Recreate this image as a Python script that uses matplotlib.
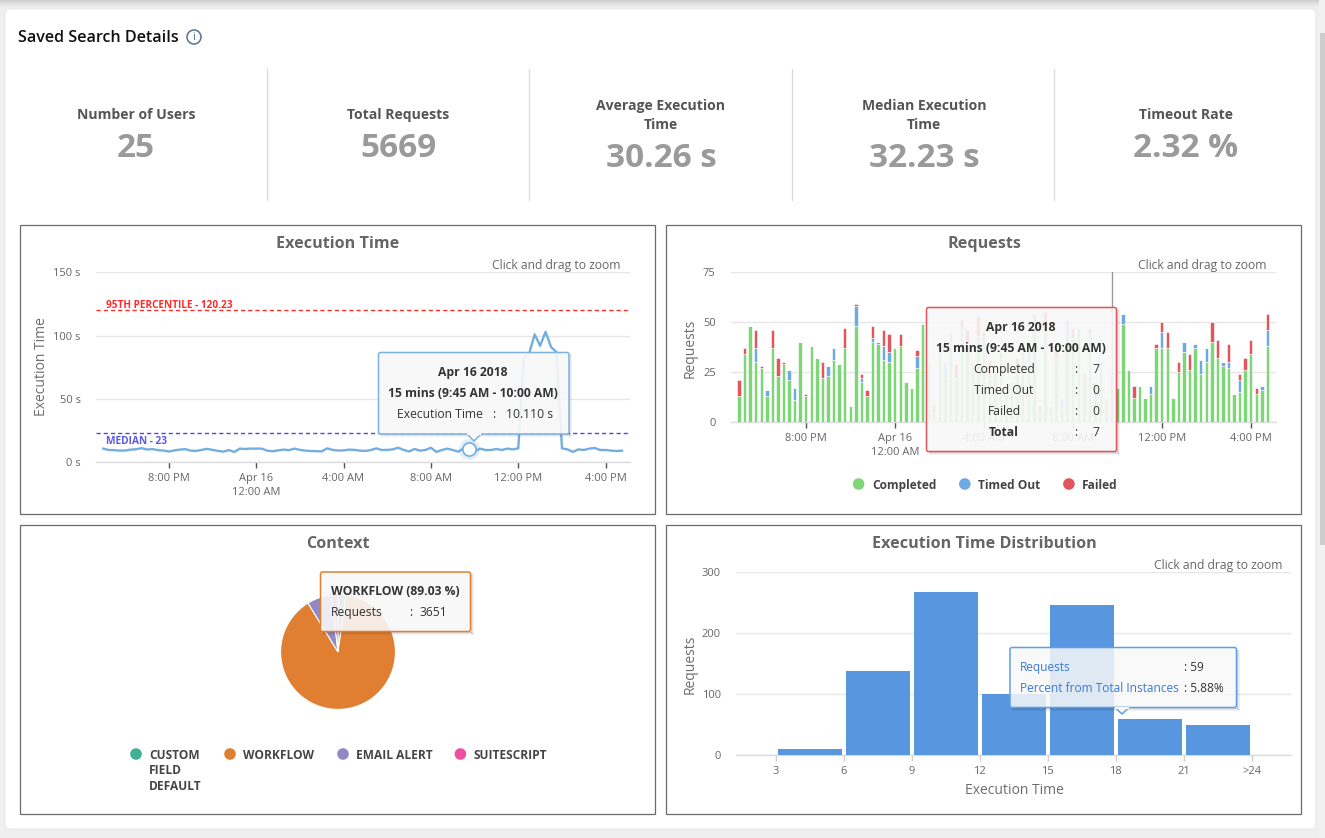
import matplotlib
matplotlib.use("Agg")
import matplotlib.pyplot as plt
from matplotlib.patches import FancyBboxPatch, Circle, Polygon, Rectangle

plt.rcParams['font.family'] = ['Open Sans', 'DejaVu Sans']

W, H = 1325, 838

# ---------- data ----------
kpi_labels = ["Number of Users", "Total Requests", "Average Execution\nTime", "Median Execution\nTime", "Timeout Rate"]
kpi_values = ["25", "5669", "30.26 s", "32.23 s", "2.32 %"]

time_ticks = [12, 28, 44, 60, 76, 92]
time_labels = ["8:00 PM", "Apr 16\n12:00 AM", "4:00 AM", "8:00 AM", "12:00 PM", "4:00 PM"]

exec_time = [10.8, 9.7, 9.6, 9.2, 9.3, 10.0, 10.3, 11.2, 10.1, 10.4, 9.6, 9.3,
             8.5, 9.4, 10.0, 10.4, 9.2, 9.0, 9.8, 10.6, 9.8, 9.0, 8.4, 9.6,
             8.2, 10.8, 10.5, 10.8, 10.8, 10.8, 9.2, 8.7, 9.4, 10.0, 9.6, 10.8,
             9.8, 9.2, 8.9, 8.8, 8.6, 11.0, 9.8, 9.3, 9.4, 10.0, 9.8, 9.2,
             9.0, 9.7, 11.0, 9.7, 9.8, 10.2, 11.5, 9.8, 8.5, 10.5, 9.2, 9.7,
             11.5, 8.2, 9.7, 10.8, 9.7, 8.4, 11.0, 10.11, 8.6, 10.8, 9.7, 9.7,
             10.5, 9.7, 10.8, 10.2, 11.0, 82, 86, 101, 92, 103, 91, 87,
             11.0, 10.2, 8.2, 10.2, 9.7, 10.8, 11.3, 9.7, 9.7, 9.2, 8.9, 9.2]
exec_ticks = [0, 50, 100, 150]
exec_ticklabels = ["0 s", "50 s", "100 s", "150 s"]
percentile_95 = 120.23
median_line = 23
hover_index = 67

completed = [13, 34, 48, 30, 27, 13, 37, 23, 29, 21, 11, 40, 13, 38, 32, 22, 23, 31, 29, 37,
             8, 48, 20, 13, 40, 39, 31, 30, 37, 38, 20, 17, 27, 49,
             30, 5, 40, 22, 38, 22, 40, 39, 30, 43, 36, 22, 26, 35, 15, 20, 27, 40, 30, 50,
             5, 45, 8, 32, 7, 43, 42, 42, 25, 42, 20, 30, 12, 25, 17,
             49, 26, 12, 18, 12, 14, 37, 37, 37, 12, 25, 35, 26, 37, 24, 30, 40, 32, 28, 27,
             14, 15, 26, 34, 14, 16, 38]
timed_out = [0, 0, 0, 7, 0, 3, 0, 0, 0, 5, 6, 0, 0, 0, 0, 0, 5, 6, 0, 0,
             0, 10, 2, 0, 2, 1, 7, 5, 0, 0, 0, 0, 6, 0,
             0, 0, 0, 8, 7, 0, 7, 0, 0, 0, 7, 0, 0, 0, 0, 0, 0, 0, 6, 4,
             0, 0, 0, 0, 5, 8, 0, 5, 0, 5, 0, 0, 0, 0, 0,
             5, 0, 0, 0, 0, 4, 0, 8, 0, 0, 0, 5, 0, 2, 7, 7, 0, 0, 2, 3,
             0, 6, 0, 0, 0, 2, 8]
failed = [8, 3, 0, 9, 1, 0, 9, 9, 1, 0, 0, 0, 1, 0, 0, 8, 0, 0, 0, 10,
          0, 1, 2, 3, 6, 0, 8, 9, 0, 6, 0, 0, 3, 0,
          0, 4, 0, 0, 0, 7, 4, 7, 0, 10, 2, 9, 0, 0, 0, 0, 5, 0, 0, 0,
          3, 10, 0, 4, 0, 0, 5, 0, 0, 0, 0, 0, 0, 0, 0,
          0, 0, 6, 0, 0, 0, 2, 5, 8, 0, 5, 0, 8, 0, 0, 0, 10, 9, 0, 9,
          0, 3, 6, 7, 3, 0, 8]
req_ticks = [0, 25, 50, 75]

context_labels = ["CUSTOM\nFIELD\nDEFAULT", "WORKFLOW", "EMAIL ALERT", "SUITESCRIPT"]
context_values = [91, 3651, 285, 74]

hist_centers = [4.5, 7.5, 10.5, 13.5, 16.5, 19.5, 22.5]
hist_values = [10, 138, 268, 100, 247, 59, 49]
hist_ticks = [3, 6, 9, 12, 15, 18, 21, 24]
hist_ticklabels = ["3", "6", "9", "12", "15", "18", "21", ">24"]
hist_yticks = [0, 100, 200, 300]

# ---------- colours ----------
C_GREEN, C_BLUE, C_RED = "#7fd678", "#6fa9e2", "#e0565c"
C_LINE = "#74aee0"
C_HIST = "#5996e0"
C_PIE = ["#41b093", "#e07f32", "#9089c4", "#ee4fa3"]
C_TXT = "#666666"
C_GRID = "#e6e6e6"

fig = plt.figure(figsize=(W / 100, H / 100), dpi=100, facecolor="#efefef")


def full_axes(z):
    a = fig.add_axes([0, 0, 1, 1], zorder=z)
    a.set_xlim(0, W)
    a.set_ylim(H, 0)
    a.axis("off")
    a.patch.set_alpha(0)
    return a


def pixel_axes(l, t, r, b):
    a = fig.add_axes([l / W, 1 - b / H, (r - l) / W, (b - t) / H], zorder=2)
    a.patch.set_alpha(0)
    return a


base = full_axes(0)
over = full_axes(5)

# ---------- page ----------
for i, c in enumerate(["#cfcfcf", "#d6d6d6", "#dcdcdc", "#e1e1e1", "#e5e5e5", "#e8e8e8", "#ebebeb", "#eeeeee", "#f0f0f0"]):
    base.add_patch(Rectangle((0, i), W, 1, fc=c, ec="none"))
base.add_patch(FancyBboxPatch((5, 9), 1311, 820, boxstyle="round,pad=0,rounding_size=5", fc="white", ec="#e9e9e9", lw=0.8))
base.add_patch(Rectangle((1319, 0), 6, H, fc="#f1f1f1", ec="none"))
base.add_patch(Rectangle((1320, 33), 5, 512, fc="#cdcdcd", ec="none"))

base.text(18, 38, "Saved Search Details", fontsize=11.6, fontweight="semibold", color="#111111", va="center", ha="left")
base.add_patch(Circle((194, 37), 7, fc="white", ec="#5b6f93", lw=1.1))
base.text(194, 37.5, "i", fontsize=8, color="#5b6f93", ha="center", va="center")

kpi_x = [136, 398, 661, 924, 1186]
for x in [267, 529, 792, 1054]:
    base.plot([x, x], [69, 200], color="#d9d9d9", lw=0.9)
for x, lab, val in zip(kpi_x, kpi_labels, kpi_values):
    two = "\n" in lab
    base.text(x, 115.5 if two else 115, lab, fontsize=10.1, fontweight="bold", color="#555555", ha="center", va="center", linespacing=1.5)
    base.text(x, 158.5 if two else 148.5, val, fontsize=24, fontweight="bold", color="#9a9a9a", ha="center", va="center")

for (l, t) in [(20, 225), (666, 225), (20, 525), (666, 525)]:
    base.add_patch(Rectangle((l - 0.5, t - 0.5), 635.5, 289.5, fc="white", ec="#6a6a6a", lw=0.9))

for x, y, s in [(338, 244, "Execution Time"), (984, 244, "Requests"), (338, 544, "Context"), (984, 544, "Execution Time Distribution")]:
    base.text(x, y, s, fontsize=11.6, fontweight="bold", color="#666666", ha="center", va="center")
for x, y in [(620, 265.5), (1266, 265.5), (1282, 565.5)]:
    base.text(x, y, "Click and drag to zoom", fontsize=8.7, color=C_TXT, ha="right", va="center")


def style_axes(a, ypad, tickcolor="#555555"):
    for s in ["top", "left", "right"]:
        a.spines[s].set_visible(False)
    a.spines["bottom"].set_color("#dcdcdc")
    a.spines["bottom"].set_linewidth(1)
    a.grid(axis="y", color=C_GRID, lw=1)
    a.set_axisbelow(True)
    a.tick_params(axis="y", length=0, pad=ypad, labelsize=8, labelcolor=C_TXT)
    a.tick_params(axis="x", length=4, width=1, color=tickcolor, pad=3.6, labelsize=8, labelcolor=C_TXT)
    for lab in a.get_xticklabels():
        lab.set_linespacing(1.4)


# ---------- Execution Time ----------
ax1 = pixel_axes(96, 272.3, 630, 462.3)
k = list(range(len(exec_time)))
ax1.plot(k, exec_time, color=C_LINE, lw=1.7, solid_joinstyle="round", zorder=3)
ax1.axhline(percentile_95, color="#ff2a2a", lw=1, ls=(0, (3, 2.2)), zorder=2)
ax1.axhline(median_line, color="#4a4ae0", lw=1, ls=(0, (3, 2.2)), zorder=2)
ax1.plot([hover_index], [exec_time[hover_index]], "o", ms=15, color=C_LINE, alpha=0.22, mew=0, zorder=4)
ax1.plot([hover_index], [exec_time[hover_index]], "o", ms=9.5, mfc="white", mec=C_LINE, mew=1.2, zorder=5)
ax1.set_xlim(-1.34, 96.46)
ax1.set_ylim(0, 150)
ax1.set_xticks(time_ticks, time_labels)
ax1.set_yticks(exec_ticks, exec_ticklabels)
style_axes(ax1, 11)
ax1.set_ylabel("Execution Time", fontsize=10, color="#6d6d6d")
ax1.yaxis.set_label_coords(49, 367, transform=over.transData)
base.text(106, 305.5, "95TH PERCENTILE - 120.23", fontsize=7.2, fontweight="bold", color="#ff2a2a", va="center")
base.text(106, 441.5, "MEDIAN - 23", fontsize=7.3, fontweight="bold", color="#5a5ae6", va="center")

# ---------- Requests ----------
ax2 = pixel_axes(731, 272.3, 1276, 422.3)
k2 = list(range(len(completed)))
bot2 = completed
bot3 = [a + b for a, b in zip(completed, timed_out)]
ax2.bar(k2, completed, width=0.62, color=C_GREEN, edgecolor="white", lw=0.4, zorder=3)
ax2.bar(k2, timed_out, bottom=bot2, width=0.62, color=C_BLUE, edgecolor="white", lw=0.4, zorder=3)
ax2.bar(k2, failed, bottom=bot3, width=0.62, color=C_RED, edgecolor="white", lw=0.4, zorder=3)
ax2.axvline(hover_index, color="#999999", lw=1, zorder=4)
ax2.set_xlim(-1.44, 96.54)
ax2.set_ylim(0, 75)
ax2.set_xticks(time_ticks, time_labels)
ax2.set_yticks(req_ticks, [str(v) for v in req_ticks])
style_axes(ax2, 11)
ax2.set_ylabel("Requests", fontsize=10, color="#6d6d6d")
ax2.yaxis.set_label_coords(698, 348, transform=over.transData)

for cx, lx, c, s in [(858.6, 872, C_GREEN, "Completed"), (964.8, 978, C_BLUE, "Timed Out"), (1068.9, 1082, C_RED, "Failed")]:
    base.add_patch(Circle((cx, 484), 5.8, fc=c, ec="none"))
    base.text(lx, 485, s, fontsize=8.6, fontweight="bold", color="#444444", va="center")

# ---------- Context ----------
ax3 = pixel_axes(280, 594, 396, 710)
ax3.pie(context_values, colors=C_PIE, startangle=90, counterclock=False, radius=1,
        wedgeprops=dict(edgecolor="white", linewidth=0.8))
ax3.set_xlim(-1.01, 1.01)
ax3.set_ylim(-1.01, 1.01)

for cx, lx, c, s in zip([136, 230, 343, 460.4], [149, 243, 356, 473.5], C_PIE, context_labels):
    base.add_patch(Circle((cx, 754), 5.8, fc=c, ec="none"))
    base.text(lx, 748.5, s, fontsize=8.6, fontweight="bold", color="#444444", va="top", ha="left", linespacing=1.26)

# ---------- Distribution ----------
ax4 = pixel_axes(736, 572.3, 1291, 755)
ax4.bar(hist_centers, hist_values, width=2.82, color=C_HIST, zorder=3)
ax4.set_xlim(1.244, 25.73)
ax4.set_ylim(0, 300)
ax4.set_xticks(hist_ticks, hist_ticklabels)
ax4.set_yticks(hist_yticks, [str(v) for v in hist_yticks])
style_axes(ax4, 11, tickcolor="#d0d0d0")
ax4.set_ylabel("Requests", fontsize=10, color="#6d6d6d")
ax4.yaxis.set_label_coords(698, 664, transform=over.transData)
ax4.set_xlabel("Execution Time", fontsize=10, color="#6d6d6d")
ax4.xaxis.set_label_coords(1014, 790, transform=over.transData)
ax4.xaxis.label.set_va("center")


# ---------- tooltips ----------
def tooltip(l, t, r, b, edge, alpha=0.9, pointer=None):
    for off, al in [(1, 0.16), (2, 0.10), (3, 0.05)]:
        over.add_patch(Rectangle((r + off - 1, t + 2), 1, b - t + off - 2, fc="#000000", ec="none", alpha=al))
        over.add_patch(Rectangle((l + 2, b + off - 1), r - l + off - 2, 1, fc="#000000", ec="none", alpha=al))
    over.add_patch(FancyBboxPatch((l, t), r - l, b - t, boxstyle="round,pad=0,rounding_size=2",
                                  fc="#f8f8f8", ec="none", alpha=alpha))
    over.add_patch(FancyBboxPatch((l, t), r - l, b - t, boxstyle="round,pad=0,rounding_size=2",
                                  fc="none", ec=edge, lw=1.1))
    if pointer is not None:
        px, py = pointer
        over.add_patch(Polygon([(px - 7, b), (px, py), (px + 7, b)], closed=True, fc="#f8f8f8", ec=edge, lw=1.1))
        over.plot([px - 6, px + 6], [b, b], color="#f8f8f8", lw=1.6)


TT = dict(fontsize=8.7, color="#333333", va="center")
tooltip(378.5, 352.5, 569, 434, "#7db3e2", pointer=(474, 441))
over.text(473, 372, "Apr 16 2018", fontweight="bold", ha="center", **TT)
over.text(473, 393.5, "15 mins (9:45 AM - 10:00 AM)", fontweight="bold", ha="center", **TT)
over.text(397, 414.5, "Execution Time", ha="left", **TT)
over.text(494, 414.5, ":", ha="center", **TT)
over.text(506, 414.5, "10.110 s", ha="left", **TT)

tooltip(926.5, 307.5, 1116.5, 451.5, "#e0565c")
over.text(1021, 327.5, "Apr 16 2018", fontweight="bold", ha="center", **TT)
over.text(1021, 348.5, "15 mins (9:45 AM - 10:00 AM)", fontweight="bold", ha="center", **TT)
for y, a, b, w in [(369.5, "Completed", "7", "normal"), (390.5, "Timed Out", "0", "normal"),
                   (411, "Failed", "0", "normal"), (432, "Total", "7", "bold")]:
    over.text(1004, y, a, ha="center", fontweight=w, **TT)
    over.text(1076, y, ":", ha="center", **TT)
    over.text(1096, y, b, ha="center", **TT)

tooltip(320.5, 572, 470.5, 631.5, "#e07f32")
over.text(331, 591.5, "WORKFLOW (89.03 %)", fontweight="bold", ha="left", **TT)
over.text(331, 612.5, "Requests", ha="left", **TT)
over.text(411, 612.5, ":", ha="center", **TT)
over.text(419, 612.5, "3651", ha="left", **TT)

tooltip(1010, 647.5, 1236.5, 707.5, "#5f9fe8", alpha=0.85, pointer=(1122, 714))
TH = dict(fontsize=8.6, va="center")
over.text(1020, 667.5, "Requests", color="#3a78d8", ha="left", **TH)
over.text(1184, 667.5, ": 59", color="#333333", ha="left", **TH)
over.text(1020, 688.5, "Percent from Total Instances", color="#3a78d8", ha="left", **TH)
over.text(1184, 688.5, ": 5.88%", color="#333333", ha="left", **TH)

fig.savefig("out.png", dpi=100, facecolor=fig.get_facecolor())
